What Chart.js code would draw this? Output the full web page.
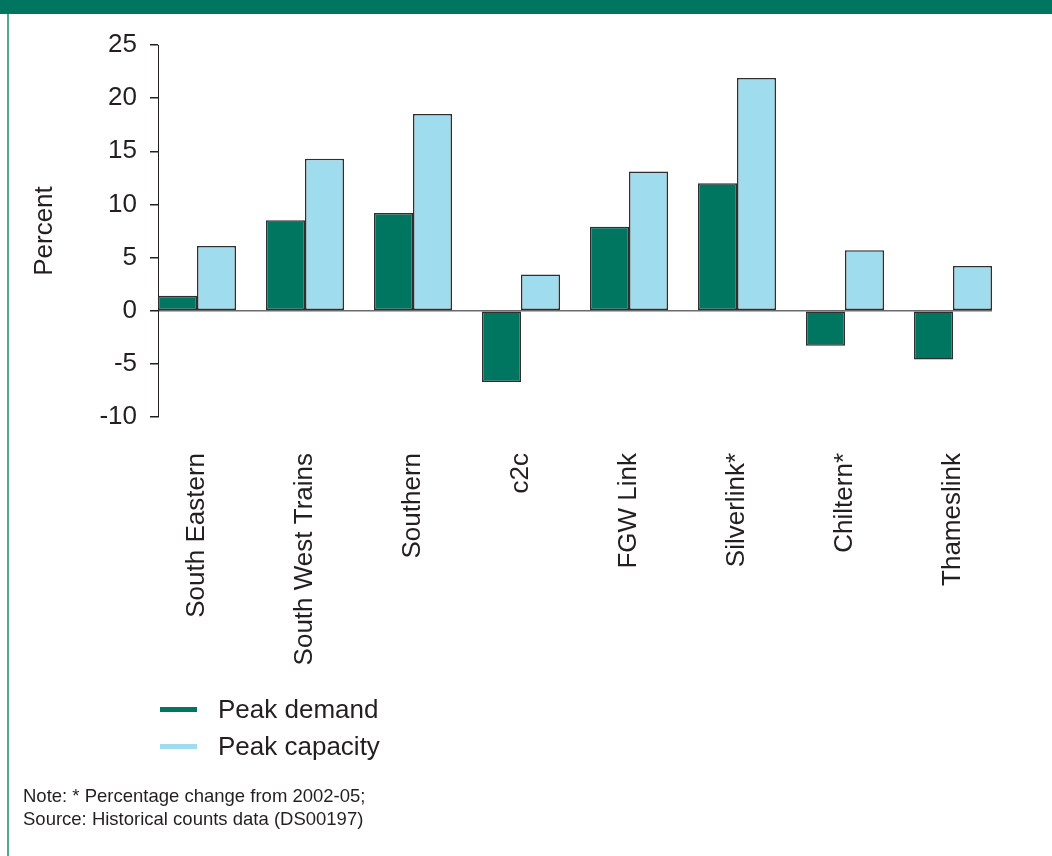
<!DOCTYPE html>
<html>
<head>
<meta charset="utf-8">
<script src="https://cdn.jsdelivr.net/npm/chart.js@4/dist/chart.umd.min.js"></script>
<style>
    html, body { margin: 0; padding: 0; background: #fff; }
    body { width: 1052px; height: 856px; position: relative; overflow: hidden;
           font-family: "Liberation Sans", Arial, sans-serif; color: #231f20; }
    #band { position: absolute; left: 0; top: 0; width: 1052px; height: 14px; background: #00755f; }
    #edge { position: absolute; left: 7px; top: 14px; width: 2px; height: 842px; background: #4da893; }
    #wrap { position: absolute; left: 0; top: 0; width: 1052px; height: 856px; }
    .leg { position: absolute; left: 160px; font-size: 26px; line-height: 30px; }
    .leg i { position: absolute; left: 0; top: 13px; width: 37px; height: 5px; }
    .leg span { position: absolute; left: 58px; top: 0; white-space: nowrap; }
    #note { position: absolute; left: 23px; top: 784px; font-size: 18.5px; line-height: 23px; }
</style>
</head>
<body>
<div id="band"></div>
<div id="edge"></div>
<div id="wrap"><canvas id="chart" width="1052" height="856"></canvas></div>

<div class="leg" style="top:694px"><i style="background:#00755f"></i><span>Peak demand</span></div>
<div class="leg" style="top:731px"><i style="background:#9fdcee"></i><span>Peak capacity</span></div>
<div id="note">Note: * Percentage change from 2002-05;<br>Source: Historical counts data (DS00197)</div>

<script>
// ── Dados ────────────────────────────────────────────────────
const operators    = ['South Eastern', 'South West Trains', 'Southern', 'c2c',
                      'FGW Link', 'Silverlink*', 'Chiltern*', 'Thameslink'];
const peakDemand   = [1.4, 8.5, 9.2, -6.7, 7.9, 12.0, -3.3, -4.6];
const peakCapacity = [6.1, 14.3, 18.5, 3.4, 13.1, 21.9, 5.7, 4.2];
const yTicks       = [-10, -5, 0, 5, 10, 15, 20, 25];

const DARK  = '#00755f';
const LIGHT = '#9fdcee';
const INK   = '#231f20';
const FONT  = '"Liberation Sans", Arial, sans-serif';

const toPoints = vals => vals.map((v, i) => ({ x: i, y: v }));

new Chart(document.getElementById('chart'), {
    type: 'bar',
    data: {
        datasets: [
            { label: 'Peak demand',   data: toPoints(peakDemand),   backgroundColor: DARK },
            { label: 'Peak capacity', data: toPoints(peakCapacity), backgroundColor: LIGHT },
        ]
    },
    options: {
        responsive: false,
        animation: false,
        layout: { padding: { top: 45, left: 0, right: 60, bottom: 139 } },
        datasets: {
            bar: {
                borderColor: '#2f2f2f',
                borderWidth: 1.5,
                borderSkipped: false,
                categoryPercentage: 0.7222,
                barPercentage: 1.0,
            }
        },
        plugins: { legend: { display: false }, tooltip: { enabled: false } },
        scales: {
            x: {
                type: 'linear',
                offset: false,
                min: -0.3611, max: 7.3611,
                grid: { display: false, drawTicks: false, offset: false },
                border: { display: false },
                afterFit: s => { s.height = 300; },
                ticks: {
                    stepSize: 1,
                    includeBounds: false,
                    autoSkip: false,
                    maxRotation: 90, minRotation: 90,
                    padding: 36,
                    color: INK,
                    font: { family: FONT, size: 26 },
                    callback: v => operators[v] ?? '',
                },
            },
            y: {
                min: yTicks[0], max: yTicks[yTicks.length - 1],
                afterFit: s => { s.width = 158; },
                afterBuildTicks: s => { s.ticks = yTicks.map(v => ({ value: v })); },
                border: { display: true, color: INK, width: 1 },
                grid: {
                    color: c => (c.tick && c.tick.value === 0) ? '#6b6b6b' : 'rgba(0,0,0,0)',
                    lineWidth: 1.5,
                    tickColor: INK,
                    tickLength: 8,
                },
                ticks: { padding: 13, color: INK, font: { family: FONT, size: 26 } },
                title: {
                    display: true, text: 'Percent', color: INK,
                    font: { family: FONT, size: 26, lineHeight: 1.2 },
                    padding: { top: 29, bottom: 0 },
                },
            },
        },
    },
});
</script>
</body>
</html>
